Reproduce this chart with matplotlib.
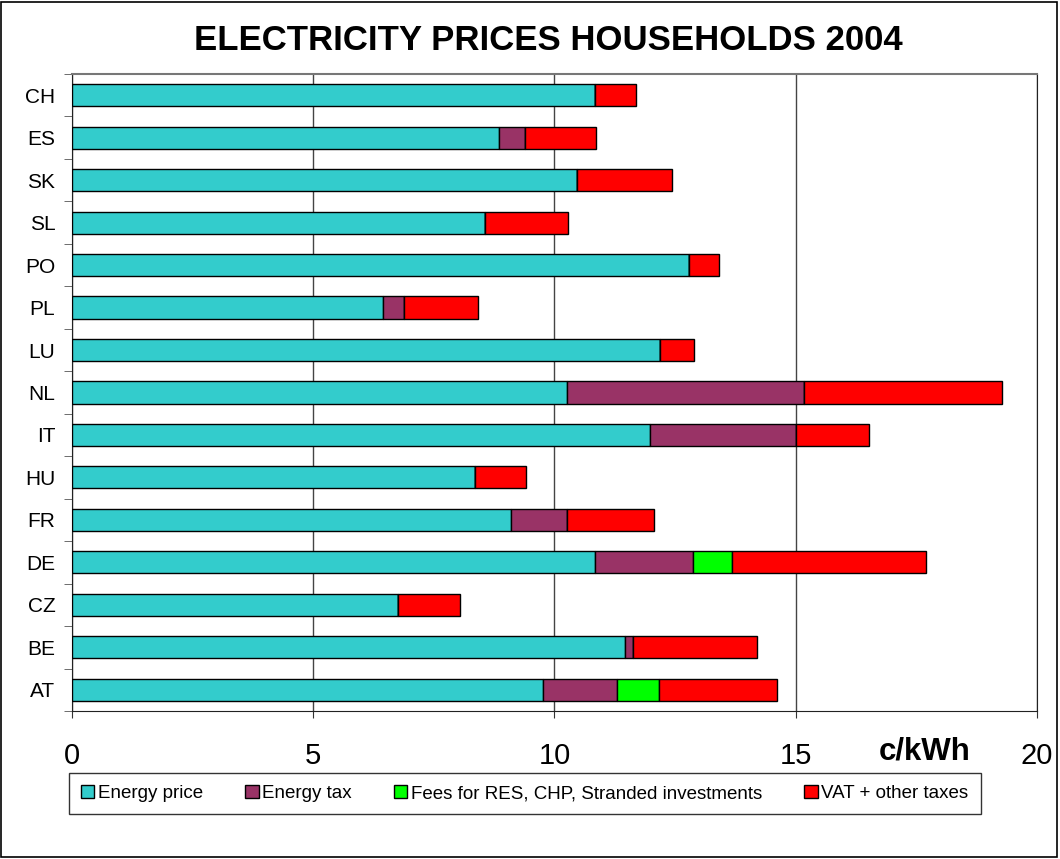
import numpy as np
import matplotlib
matplotlib.use("Agg")
import matplotlib.pyplot as plt
from matplotlib.patches import Rectangle

# data (c/kWh), top to bottom as in the chart
countries = ["CH", "ES", "SK", "SL", "PO", "PL", "LU", "NL", "IT", "HU", "FR", "DE", "CZ", "BE", "AT"]
energy_price = [10.85, 8.86, 10.46, 8.57, 12.78, 6.45, 12.18, 10.25, 11.97, 8.36, 9.09, 10.83, 6.76, 11.47, 9.77]
energy_tax = [0.00, 0.52, 0.00, 0.00, 0.00, 0.44, 0.00, 4.92, 3.03, 0.00, 1.16, 2.05, 0.00, 0.15, 1.52]
fees = [0.00, 0.00, 0.00, 0.00, 0.00, 0.00, 0.00, 0.00, 0.00, 0.00, 0.00, 0.79, 0.00, 0.00, 0.87]
vat_other = [0.83, 1.49, 1.97, 1.72, 0.62, 1.53, 0.72, 4.10, 1.51, 1.04, 1.82, 4.03, 1.29, 2.57, 2.45]

series = [
    ("Energy price", energy_price, "#33CCCC"),
    ("Energy tax", energy_tax, "#993366"),
    ("Fees for RES, CHP, Stranded investments", fees, "#00FF00"),
    ("VAT + other taxes", vat_other, "#FF0000"),
]

plt.rcParams["font.family"] = ["Liberation Sans", "DejaVu Sans"]

fig = plt.figure(figsize=(10.6, 8.59), dpi=100)
ax = fig.add_axes([0.0679, 0.1723, 0.9104, 0.7416])

y = np.arange(len(countries))
left = np.zeros(len(countries))
for name, vals, col in series:
    vals = np.array(vals)
    ax.barh(y, vals, left=left, height=0.52, color=col, edgecolor="black",
            linewidth=1.0, label=name, zorder=3)
    left += vals

ax.set_ylim(len(countries) - 0.5, -0.5)
ax.set_xlim(0, 20)
ax.set_yticks(y)
ax.set_yticklabels(countries, fontsize=15)
ax.set_yticks(np.arange(-0.5, len(countries), 1), minor=True)
ax.tick_params(axis="y", which="major", length=0, pad=12)
ax.tick_params(axis="y", which="minor", length=6, direction="out", color="#555555")

ax.set_xticks([0, 5, 10, 15, 20])
ax.set_xticklabels(["0", "5", "10", "15", "20"], fontsize=21)
ax.tick_params(axis="x", length=5, direction="out", pad=17, color="#333333")
ax.xaxis.grid(True, color="#444444", linewidth=1.0, zorder=0)

ax.spines["top"].set_color("#777777")
ax.spines["top"].set_linewidth(1.5)
ax.spines["right"].set_color("#222222")
ax.spines["left"].set_color("#222222")
ax.spines["bottom"].set_color("#222222")

ax.text(0.884, -0.064, "c/kWh", transform=ax.transAxes, ha="center", va="center",
        fontsize=22.5, fontweight="bold")

fig.text(0.517, 0.953, "ELECTRICITY PRICES HOUSEHOLDS 2004", ha="center", va="center",
         fontsize=25, fontweight="bold")

leg = ax.legend(loc="upper left", bbox_to_anchor=(-0.003, -0.097), ncol=4,
                prop={"size": 13.5}, frameon=True, fancybox=False,
                edgecolor="black", handlelength=0.7, handleheight=0.7,
                handletextpad=0.2, columnspacing=2.25, borderpad=0.65,
                borderaxespad=0)
leg.get_frame().set_linewidth(1.0)

fig.patches.append(Rectangle((0.001, 0.002), 0.996, 0.996, transform=fig.transFigure,
                             fill=False, edgecolor="black", linewidth=1.2))

plt.savefig("out.png", dpi=100)
